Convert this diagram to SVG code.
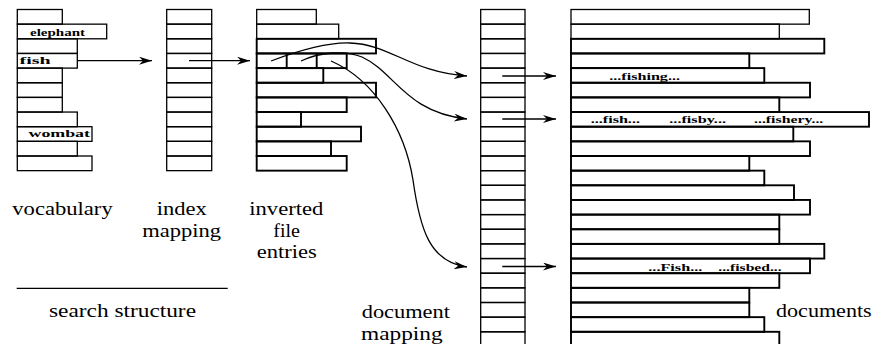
<svg xmlns="http://www.w3.org/2000/svg" width="873" height="344" viewBox="0 0 873 344">
<style>
.r{fill:none;stroke:#000;stroke-width:1.3}
.rb{fill:none;stroke:#000;stroke-width:1.9}
.c{fill:none;stroke:#000;stroke-width:1.3}
.lbl{font-family:"Liberation Serif","Times New Roman",serif;font-size:19px;fill:#000}
.sm{font-family:"Liberation Serif","Times New Roman",serif;font-size:11px;font-weight:bold;fill:#000}
</style>
<defs>
<marker id="ah" markerUnits="userSpaceOnUse" markerWidth="14" markerHeight="10" refX="13" refY="4" orient="auto">
<path d="M0,0 L13,4 L0,8 L4,4 Z" fill="#000"/>
</marker>
</defs>
<rect width="873" height="344" fill="#fff"/>

<g id="vocabulary">
<rect class="r" x="17.3" y="9.5" width="45" height="14.65"/>
<rect class="r" x="17.3" y="24.15" width="89.4" height="14.65"/>
<rect class="r" x="17.3" y="38.8" width="60" height="14.65"/>
<rect class="r" x="17.3" y="53.45" width="60" height="14.65"/>
<rect class="r" x="17.3" y="68.1" width="45" height="14.65"/>
<rect class="r" x="17.3" y="82.75" width="45" height="14.65"/>
<rect class="r" x="17.3" y="97.4" width="45" height="14.65"/>
<rect class="r" x="17.3" y="112.05" width="60" height="14.65"/>
<rect class="r" x="17.3" y="126.7" width="74.7" height="14.65"/>
<rect class="r" x="17.3" y="141.35" width="60" height="14.65"/>
<rect class="r" x="17.3" y="156" width="74.7" height="14.65"/>
<text class="sm" x="30" y="35.5" textLength="55" lengthAdjust="spacingAndGlyphs">elephant</text>
<text class="sm" x="19.5" y="64" textLength="31" lengthAdjust="spacingAndGlyphs">fish</text>
<text class="sm" x="28.5" y="137" textLength="61.5" lengthAdjust="spacingAndGlyphs">wombat</text>
<text class="lbl" x="12.3" y="215" textLength="100.4" lengthAdjust="spacingAndGlyphs">vocabulary</text>
</g>

<g id="index-mapping">
<rect class="r" x="166.7" y="9.5" width="45" height="14.65"/>
<rect class="r" x="166.7" y="24.15" width="45" height="14.65"/>
<rect class="r" x="166.7" y="38.8" width="45" height="14.65"/>
<rect class="r" x="166.7" y="53.45" width="45" height="14.65"/>
<rect class="r" x="166.7" y="68.1" width="45" height="14.65"/>
<rect class="r" x="166.7" y="82.75" width="45" height="14.65"/>
<rect class="r" x="166.7" y="97.4" width="45" height="14.65"/>
<rect class="r" x="166.7" y="112.05" width="45" height="14.65"/>
<rect class="r" x="166.7" y="126.7" width="45" height="14.65"/>
<rect class="r" x="166.7" y="141.35" width="45" height="14.65"/>
<rect class="r" x="166.7" y="156" width="45" height="14.65"/>
<text class="lbl" x="156.7" y="215" textLength="50" lengthAdjust="spacingAndGlyphs">index</text>
<text class="lbl" x="142.3" y="236.7" textLength="78.7" lengthAdjust="spacingAndGlyphs">mapping</text>
</g>

<g id="inverted-file">
<rect class="r" x="256.7" y="9.5" width="59.6" height="14.65"/>
<rect class="r" x="256.7" y="24.15" width="82" height="14.65"/>
<rect class="rb" x="256.7" y="53.45" width="90" height="14.65"/>
<line class="rb" x1="286.7" y1="53.45" x2="286.7" y2="68.1"/>
<line class="rb" x1="316.7" y1="53.45" x2="316.7" y2="68.1"/>
<rect class="rb" x="256.7" y="68.1" width="66.6" height="14.65"/>
<rect class="rb" x="256.7" y="82.75" width="119.3" height="14.65"/>
<rect class="rb" x="256.7" y="97.4" width="90" height="14.65"/>
<rect class="rb" x="256.7" y="112.05" width="44.3" height="14.65"/>
<rect class="rb" x="256.7" y="126.7" width="104.3" height="14.65"/>
<rect class="rb" x="256.7" y="141.35" width="74.3" height="14.65"/>
<rect class="rb" x="256.7" y="156" width="90" height="14.65"/>
<rect class="rb" x="256.7" y="38.8" width="119.3" height="14.65"/>
<text class="lbl" x="249.3" y="215" textLength="74" lengthAdjust="spacingAndGlyphs">inverted</text>
<text class="lbl" x="273.3" y="236.7" textLength="26.7" lengthAdjust="spacingAndGlyphs">file</text>
<text class="lbl" x="256.7" y="258.3" textLength="60" lengthAdjust="spacingAndGlyphs">entries</text>
</g>

<g id="document-mapping">
<rect class="r" x="480.7" y="9.5" width="44.3" height="14.65"/>
<rect class="r" x="480.7" y="24.15" width="44.3" height="14.65"/>
<rect class="r" x="480.7" y="38.8" width="44.3" height="14.65"/>
<rect class="r" x="480.7" y="53.45" width="44.3" height="14.65"/>
<rect class="r" x="480.7" y="68.1" width="44.3" height="14.65"/>
<rect class="r" x="480.7" y="82.75" width="44.3" height="14.65"/>
<rect class="r" x="480.7" y="97.4" width="44.3" height="14.65"/>
<rect class="r" x="480.7" y="112.05" width="44.3" height="14.65"/>
<rect class="r" x="480.7" y="126.7" width="44.3" height="14.65"/>
<rect class="r" x="480.7" y="141.35" width="44.3" height="14.65"/>
<rect class="r" x="480.7" y="156" width="44.3" height="14.65"/>
<rect class="r" x="480.7" y="170.65" width="44.3" height="14.65"/>
<rect class="r" x="480.7" y="185.3" width="44.3" height="14.65"/>
<rect class="r" x="480.7" y="199.95" width="44.3" height="14.65"/>
<rect class="r" x="480.7" y="214.6" width="44.3" height="14.65"/>
<rect class="r" x="480.7" y="229.25" width="44.3" height="14.65"/>
<rect class="r" x="480.7" y="243.9" width="44.3" height="14.65"/>
<rect class="r" x="480.7" y="258.55" width="44.3" height="14.65"/>
<rect class="r" x="480.7" y="273.2" width="44.3" height="14.65"/>
<rect class="r" x="480.7" y="287.85" width="44.3" height="14.65"/>
<rect class="r" x="480.7" y="302.5" width="44.3" height="14.65"/>
<rect class="r" x="480.7" y="317.15" width="44.3" height="14.65"/>
<rect class="r" x="480.7" y="331.8" width="44.3" height="14.65"/>
<text class="lbl" x="361.7" y="318.3" textLength="88.3" lengthAdjust="spacingAndGlyphs">document</text>
<text class="lbl" x="361" y="340" textLength="81.7" lengthAdjust="spacingAndGlyphs">mapping</text>
</g>

<g id="documents">
<rect class="r" x="571" y="9.5" width="238.3" height="14.65"/>
<rect class="r" x="571" y="24.15" width="208.3" height="14.65"/>
<rect class="rb" x="571" y="38.8" width="253.3" height="14.65"/>
<rect class="rb" x="571" y="53.45" width="178.3" height="14.65"/>
<rect class="rb" x="571" y="68.1" width="193.3" height="14.65"/>
<rect class="rb" x="571" y="82.75" width="239" height="14.65"/>
<rect class="rb" x="571" y="97.4" width="208.3" height="14.65"/>
<rect class="rb" x="571" y="112.05" width="298" height="14.65"/>
<rect class="rb" x="571" y="126.7" width="222.3" height="14.65"/>
<rect class="rb" x="571" y="141.35" width="239" height="14.65"/>
<rect class="rb" x="571" y="156" width="178.3" height="14.65"/>
<rect class="rb" x="571" y="170.65" width="193.3" height="14.65"/>
<rect class="rb" x="571" y="185.3" width="223" height="14.65"/>
<rect class="rb" x="571" y="199.95" width="239" height="14.65"/>
<rect class="rb" x="571" y="214.6" width="208.3" height="14.65"/>
<rect class="rb" x="571" y="229.25" width="208.3" height="14.65"/>
<rect class="rb" x="571" y="243.9" width="253.3" height="14.65"/>
<rect class="rb" x="571" y="258.55" width="239" height="14.65"/>
<rect class="rb" x="571" y="273.2" width="208.3" height="14.65"/>
<rect class="rb" x="571" y="287.85" width="178.3" height="14.65"/>
<rect class="rb" x="571" y="302.5" width="178.3" height="14.65"/>
<rect class="rb" x="571" y="317.15" width="193.3" height="14.65"/>
<rect class="rb" x="571" y="331.8" width="208.3" height="14.65"/>
<text class="sm" x="609.3" y="79.5" textLength="70.7" lengthAdjust="spacingAndGlyphs">...fishing...</text>
<text class="sm" x="590.7" y="123.3" textLength="49.3" lengthAdjust="spacingAndGlyphs">...fish...</text>
<text class="sm" x="669.3" y="123.3" textLength="56.7" lengthAdjust="spacingAndGlyphs">...fisby...</text>
<text class="sm" x="754" y="123.3" textLength="69.3" lengthAdjust="spacingAndGlyphs">...fishery...</text>
<text class="sm" x="648.3" y="270.5" textLength="54" lengthAdjust="spacingAndGlyphs">...Fish...</text>
<text class="sm" x="718.3" y="270.5" textLength="63.4" lengthAdjust="spacingAndGlyphs">...fisbed...</text>
<text class="lbl" x="776" y="316.7" textLength="95.7" lengthAdjust="spacingAndGlyphs">documents</text>
</g>

<g id="search-structure">
<line x1="16.7" y1="288.3" x2="227.7" y2="288.3" stroke="#000" stroke-width="1.3"/>
<text class="lbl" x="49" y="316.7" textLength="147" lengthAdjust="spacingAndGlyphs">search structure</text>
</g>

<g id="connectors">
<line class="c" x1="77.3" y1="60.7" x2="152" y2="60.7" marker-end="url(#ah)"/>
<line class="c" x1="189" y1="60.7" x2="250" y2="60.7" marker-end="url(#ah)"/>
<path class="c" d="M271,61 C295,52 325,42 350,43 C390,44 410,72 467,76" marker-end="url(#ah)"/>
<path class="c" d="M301,61 C320,52 345,50 362,57 C395,72 405,112 467,119" marker-end="url(#ah)"/>
<path class="c" d="M331,61 C375,80 405,130 413,180 C420,230 430,262 467,267" marker-end="url(#ah)"/>
<line class="c" x1="502.3" y1="76" x2="556" y2="76" marker-end="url(#ah)"/>
<line class="c" x1="502.3" y1="119" x2="556" y2="119" marker-end="url(#ah)"/>
<line class="c" x1="502.3" y1="266.5" x2="556" y2="266.5" marker-end="url(#ah)"/>
</g>
</svg>
